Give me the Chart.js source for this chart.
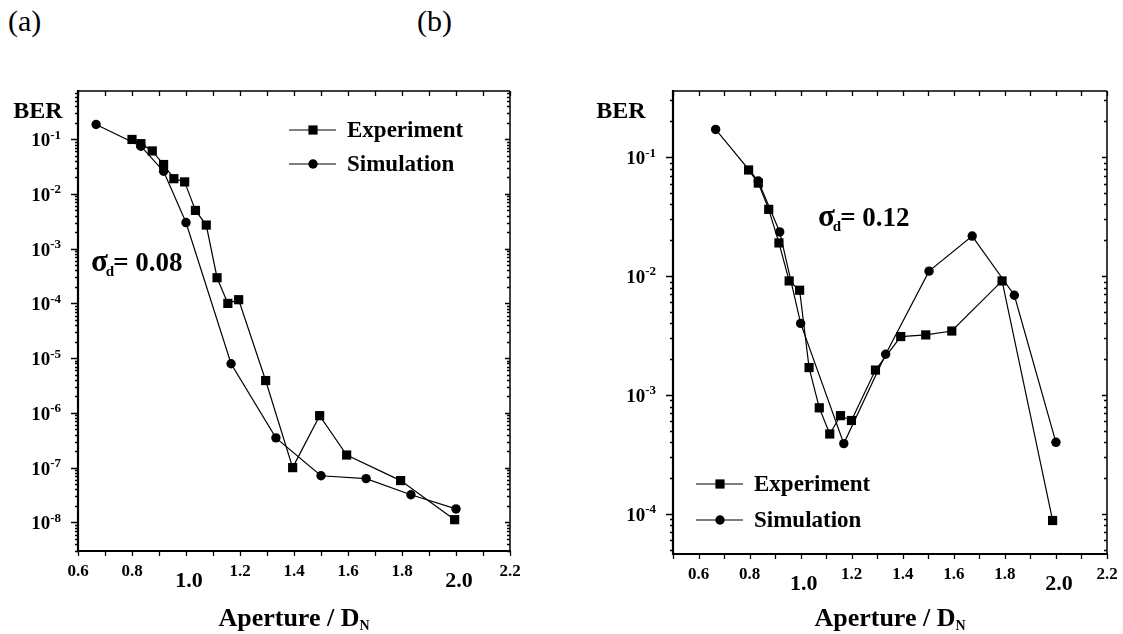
<!DOCTYPE html>
<html>
<head>
<meta charset="utf-8">
<script src="https://cdn.jsdelivr.net/npm/chart.js@4.4.1/dist/chart.umd.min.js"></script>
<style>
  body { margin: 0; background: #fff; width: 1123px; height: 634px; overflow: hidden; position: relative; }
  canvas { position: absolute; top: 0; }
  #chartA { left: 0; }
  #chartB { left: 560px; }
  .panel { position: absolute; top: 4px; font: 30px 'Liberation Serif', 'Times New Roman', serif; color: #000; }
</style>
</head>
<body>
<div class="panel" style="left:8px">(a)</div>
<div class="panel" style="left:417px">(b)</div>
<canvas id="chartA" width="560" height="634"></canvas>
<canvas id="chartB" width="563" height="634"></canvas>
<script>
// panel (a), sigma_d = 0.08
var expA_x   = [0.80, 0.833, 0.875, 0.917, 0.955, 0.995, 1.035, 1.075, 1.115, 1.155, 1.195, 1.295, 1.395, 1.495, 1.595, 1.795, 1.995];
var expA_ber = [0.099, 0.083, 0.061, 0.0345, 0.019, 0.0166, 0.005, 0.0027, 2.95e-4, 1.0e-4, 1.17e-4, 3.9e-6, 1.0e-7, 8.9e-7, 1.7e-7, 5.8e-8, 1.12e-8];
var simA_x   = [0.667, 0.833, 0.917, 1.0, 1.167, 1.333, 1.5, 1.667, 1.833, 2.0];
var simA_ber = [0.186, 0.0745, 0.026, 0.003, 7.9e-6, 3.5e-7, 7.1e-8, 6.3e-8, 3.2e-8, 1.76e-8];

// panel (b), sigma_d = 0.12
var expB_x   = [0.796, 0.834, 0.875, 0.915, 0.955, 0.996, 1.033, 1.073, 1.114, 1.156, 1.199, 1.293, 1.392, 1.49, 1.592, 1.789, 1.987];
var expB_ber = [0.078, 0.0605, 0.0364, 0.019, 0.0091, 0.0076, 1.7e-3, 7.8e-4, 4.7e-4, 6.7e-4, 6.1e-4, 1.62e-3, 3.1e-3, 3.2e-3, 3.45e-3, 9.1e-3, 8.8e-5];
var simB_x   = [0.667, 0.834, 0.918, 1.0, 1.169, 1.333, 1.503, 1.672, 1.837, 2.0];
var simB_ber = [0.171, 0.063, 0.0235, 0.004, 3.9e-4, 2.2e-3, 0.011, 0.0217, 0.0069, 4.0e-4];

var xLabelsA = [0.6, 0.8, 1.0, 1.2, 1.4, 1.6, 1.8, 2.0, 2.2];
var xLabelsB = [0.6, 0.8, 1.0, 1.2, 1.4, 1.6, 1.8, 2.0, 2.2];
var bigLabels = [1.0, 2.0];
var yDecadesA = [-1, -2, -3, -4, -5, -6, -7, -8];
var yDecadesB = [-1, -2, -3, -4];

var seriesNames = ['Experiment', 'Simulation'];

var SERIF = "'Liberation Serif', 'Times New Roman', serif";

function pts(xs, ys) {
  return xs.map(function (x, i) { return { x: x, y: ys[i] }; });
}

function marker(ctx, style, x, y) {
  ctx.beginPath();
  if (style === 'rect') {
    ctx.rect(x - 4.6, y - 4.6, 9.2, 9.2);
  } else {
    ctx.arc(x, y, 4.7, 0, Math.PI * 2);
  }
  ctx.fill();
}

// frame, ticks, tick labels, axis titles, legend and annotation
var framePlugin = {
  id: 'frame',
  afterDraw: function (chart, args, o) {
    var ctx = chart.ctx;
    var a = chart.chartArea;
    var xs = chart.scales.x, ys = chart.scales.y;
    ctx.save();
    ctx.strokeStyle = '#000';
    ctx.fillStyle = '#000';
    ctx.lineCap = 'butt';

    // box
    ctx.lineWidth = 1.5;
    ctx.beginPath();
    ctx.moveTo(a.left, a.top); ctx.lineTo(a.right, a.top);
    ctx.moveTo(a.right, a.top); ctx.lineTo(a.right, a.bottom);
    ctx.stroke();
    ctx.lineWidth = 2.2;
    ctx.beginPath();
    ctx.moveTo(a.left, a.top - 1); ctx.lineTo(a.left, a.bottom);
    ctx.lineTo(a.right + 1, a.bottom);
    ctx.stroke();

    // x ticks every 0.1: outward at bottom, inward at top
    ctx.lineWidth = 1.3;
    var n0 = Math.round(xs.min * 10), n1 = Math.round(xs.max * 10);
    ctx.beginPath();
    for (var n = n0; n <= n1; n++) {
      var px = Math.round(xs.getPixelForValue(n / 10)) + 0.5;
      ctx.moveTo(px, a.bottom); ctx.lineTo(px, a.bottom + 5);
      ctx.moveTo(px, a.top); ctx.lineTo(px, a.top + 5);
    }
    ctx.stroke();

    // y ticks: decades and 2..9 minors, outward at left, inward at right
    var d0 = Math.floor(Math.log10(ys.min)), d1 = Math.ceil(Math.log10(ys.max));
    ctx.beginPath();
    for (var d = d0; d <= d1; d++) {
      for (var k = 1; k <= 9; k++) {
        var v = k * Math.pow(10, d);
        if (v < ys.min || v > ys.max) continue;
        var py = Math.round(ys.getPixelForValue(v)) + 0.5;
        var len = k === 1 ? 7 : 3;
        ctx.moveTo(a.left, py); ctx.lineTo(a.left - len, py);
        ctx.moveTo(a.right, py); ctx.lineTo(a.right - (k === 1 ? 5 : 3), py);
      }
    }
    ctx.stroke();

    // x tick labels
    ctx.textAlign = 'center';
    ctx.textBaseline = 'middle';
    o.xLabels.forEach(function (v) {
      var big = bigLabels.indexOf(v) >= 0;
      ctx.font = 'bold ' + (big ? 22 : 17) + 'px ' + SERIF;
      var px = xs.getPixelForValue(v) + (big ? 3 : 0);
      ctx.fillText(v.toFixed(1), px, a.bottom + (big ? 30 : 21));
    });

    // y tick labels 10^n
    ctx.textBaseline = 'middle';
    ctx.textAlign = 'left';
    o.yDecades.forEach(function (e) {
      var py = ys.getPixelForValue(Math.pow(10, e));
      var base = '10', sup = '-' + (-e);
      ctx.font = 'bold 19px ' + SERIF;
      var wb = ctx.measureText(base).width;
      ctx.font = 'bold 13px ' + SERIF;
      var ws = ctx.measureText(sup).width;
      var x0 = a.left - 17 - wb - ws;
      ctx.font = 'bold 19px ' + SERIF;
      ctx.fillText(base, x0, py + 2);
      ctx.font = 'bold 13px ' + SERIF;
      ctx.fillText(sup, x0 + wb, py - 4);
    });

    // BER
    ctx.textAlign = 'center';
    ctx.font = 'bold 24px ' + SERIF;
    ctx.fillText('BER', o.berX, o.berY);

    // x axis title with subscript
    var cx = (a.left + a.right) / 2;
    ctx.font = 'bold 26px ' + SERIF;
    var main = 'Aperture / D';
    var wm = ctx.measureText(main).width;
    ctx.font = 'bold 14px ' + SERIF;
    var wn = ctx.measureText('N').width;
    var tx = cx - (wm + wn) / 2;
    ctx.textAlign = 'left';
    ctx.textBaseline = 'alphabetic';
    ctx.font = 'bold 26px ' + SERIF;
    ctx.fillText(main, tx, 626);
    ctx.font = 'bold 14px ' + SERIF;
    ctx.fillText('N', tx + wm, 630);

    // legend
    ctx.textBaseline = 'middle';
    ctx.lineWidth = 1.2;
    ['rect', 'circle'].forEach(function (st, i) {
      var ly = o.legY + i * o.legGap;
      ctx.beginPath();
      ctx.moveTo(o.legX, ly); ctx.lineTo(o.legX + 47, ly);
      ctx.stroke();
      marker(ctx, st, o.legX + 24, ly);
      ctx.font = 'bold 23px ' + SERIF;
      ctx.fillText(seriesNames[i], o.legX + 58, ly + 1);
    });

    // sigma_d annotation
    ctx.textBaseline = 'middle';
    ctx.font = 'bold 31px ' + SERIF;
    ctx.fillText('\u03c3', o.sigX, o.sigY - 1);
    var ws1 = ctx.measureText('\u03c3').width;
    ctx.font = 'bold 15px ' + SERIF;
    ctx.fillText('d', o.sigX + ws1 - 2, o.sigY + 8);
    var wd = ctx.measureText('d').width;
    ctx.font = 'bold 27px ' + SERIF;
    ctx.fillText('= ' + o.sigma, o.sigX + ws1 + wd - 3, o.sigY);

    ctx.restore();
  }
};

function makeChart(id, exp, sim, xr, yr, layout, extra) {
  return new Chart(document.getElementById(id), {
    type: 'line',
    data: {
      datasets: [
        { label: seriesNames[0], data: exp, borderColor: '#000', backgroundColor: '#000', borderWidth: 1.2,
          pointStyle: 'rect', pointRadius: 6.5, pointBorderWidth: 0, tension: 0 },
        { label: seriesNames[1], data: sim, borderColor: '#000', backgroundColor: '#000', borderWidth: 1.2,
          pointStyle: 'circle', pointRadius: 4.7, pointBorderWidth: 0, tension: 0 }
      ]
    },
    options: {
      responsive: false,
      animation: false,
      devicePixelRatio: 1,
      layout: { padding: { left: 0, top: layout.top, right: layout.right, bottom: 0 } },
      plugins: { legend: { display: false }, tooltip: { enabled: false }, frame: extra },
      scales: {
        x: { type: 'linear', min: xr[0], max: xr[1],
             ticks: { display: false }, grid: { display: false }, border: { display: false },
             afterFit: function (s) { s.height = layout.xh; } },
        y: { type: 'logarithmic', min: yr[0], max: yr[1],
             ticks: { display: false }, grid: { display: false }, border: { display: false },
             afterFit: function (s) { s.width = layout.yw; } }
      }
    },
    plugins: [framePlugin]
  });
}

makeChart('chartA', pts(expA_x, expA_ber), pts(simA_x, simA_ber),
  [0.6, 2.2], [3e-9, 0.76],
  { top: 91, right: 50, xh: 83, yw: 78 },
  { xLabels: xLabelsA, yDecades: yDecadesA, berX: 38, berY: 112,
    legX: 289, legY: 130, legGap: 34, sigX: 91, sigY: 264, sigma: '0.08' });

makeChart('chartB', pts(expB_x, expB_ber), pts(simB_x, simB_ber),
  [0.5, 2.2], [4.6e-5, 0.36],
  { top: 91, right: 16, xh: 80, yw: 113 },
  { xLabels: xLabelsB, yDecades: yDecadesB, berX: 61, berY: 112,
    legX: 136, legY: 484, legGap: 36, sigX: 258, sigY: 219, sigma: '0.12' });
</script>
</body>
</html>
